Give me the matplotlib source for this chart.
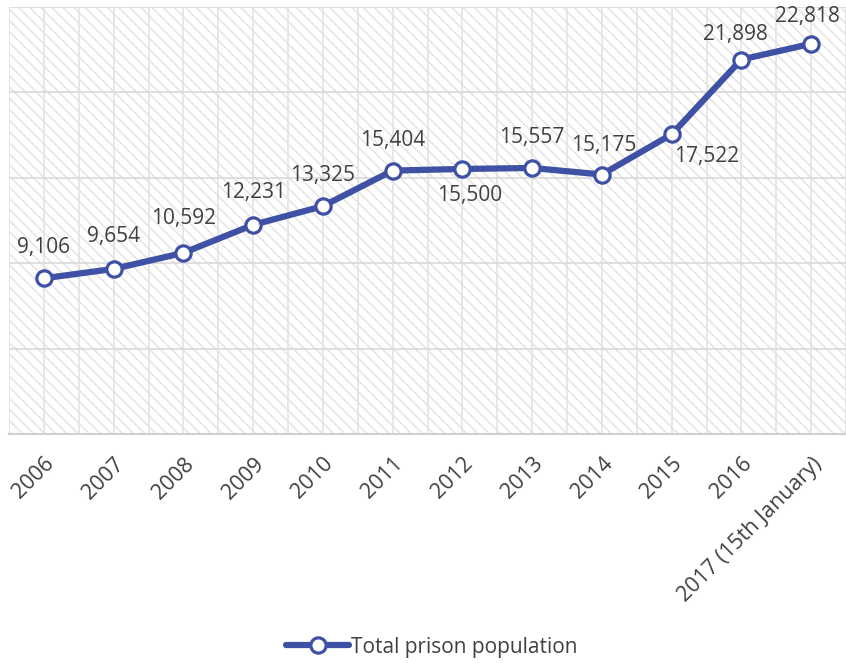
import matplotlib.pyplot as plt
from matplotlib.patches import Rectangle
from matplotlib.ticker import MultipleLocator

years = ['2006', '2007', '2008', '2009', '2010', '2011', '2012', '2013',
         '2014', '2015', '2016', '2017 (15th January)']
population = [9106, 9654, 10592, 12231, 13325, 15404, 15500, 15557,
              15175, 17522, 21898, 22818]
series_name = 'Total prison population'

# label offsets in points (dx, dy)
offsets = [(0, 22), (0, 23), (0, 25), (0, 23), (0, 22), (0, 22), (5, -19),
           (0, 22), (1, 21), (25, -16), (-4, 18), (-3, 20)]

blue = '#3F51A5'
grey_text = '#404040'

plt.rcParams['font.family'] = ['Open Sans', 'DejaVu Sans']
plt.rcParams['hatch.linewidth'] = 1.2

fig = plt.figure(figsize=(8.46, 6.63), dpi=100)
ax = fig.add_axes([9 / 846, 1 - 434 / 663, (846 - 9) / 846, (434 - 6.5) / 663])

x = list(range(len(years)))

# hatched plot area
ax.add_patch(Rectangle((0, 0), 1, 1, transform=ax.transAxes, facecolor='white',
                       edgecolor='#e6e6e6', linewidth=0, hatch='\\\\\\', zorder=0))

ax.yaxis.set_major_locator(MultipleLocator(5000))
ax.xaxis.set_minor_locator(MultipleLocator(0.5))
ax.grid(axis='y', which='major', color='#d9d9d9', linewidth=1.2, zorder=1)
ax.grid(axis='x', which='both', color='#e3e3e3', linewidth=1.2, zorder=1)
ax.set_axisbelow(True)

ax.plot(x, population, color=blue, linewidth=4.5, marker='o', markersize=11,
        markerfacecolor='white', markeredgecolor=blue, markeredgewidth=2.3,
        label=series_name, zorder=3, solid_capstyle='round')

for xi, v, (dx, dy) in zip(x, population, offsets):
    ax.annotate(f'{v:,}', (xi, v), xytext=(dx, dy), textcoords='offset points',
                ha='center', va='center', fontsize=15, color=grey_text)

ax.set_xticks(x)
ax.set_xticklabels(years, rotation=45, ha='right', rotation_mode='anchor',
                   fontsize=15.5, color=grey_text)
ax.tick_params(axis='x', which='both', length=0, pad=14)
ax.tick_params(axis='y', length=0, labelleft=False)

ax.set_xlim(-0.5, len(years) - 0.5)
ax.set_ylim(0, 25000)

for side in ['top', 'right', 'left']:
    ax.spines[side].set_visible(False)
ax.spines['bottom'].set_color('#d0d0d0')
ax.spines['bottom'].set_linewidth(1.5)

fig.legend(loc='center', bbox_to_anchor=(0.5 + 9 / 846, 1 - 647 / 663), frameon=False,
           fontsize=15, labelcolor=grey_text, handlelength=3, handletextpad=0.1)

fig.savefig('out.png', dpi=100)
